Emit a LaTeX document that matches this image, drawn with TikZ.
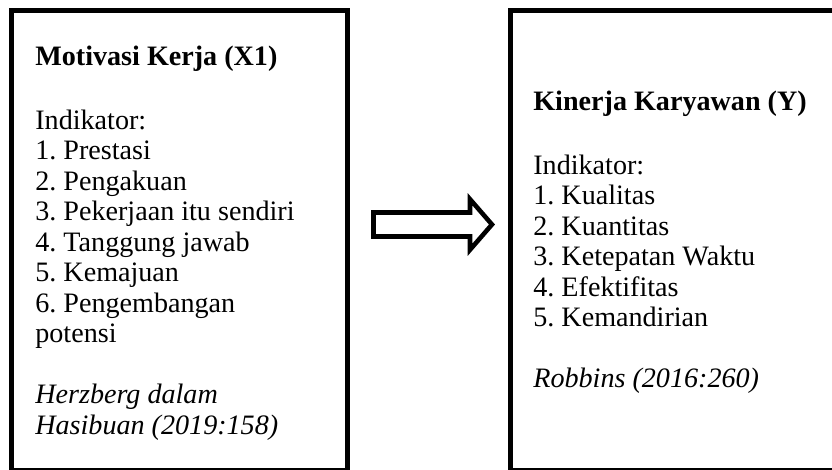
\documentclass[tikz,border=0pt]{standalone}
\usepackage{fontspec}
\setmainfont{Liberation Serif}
\usetikzlibrary{shapes.arrows}
\frenchspacing
\begin{document}
\begin{tikzpicture}[
    kotak/.style={draw, line width=2.8pt, outer sep=0pt, anchor=north west, minimum height=9.2cm},
    isi/.style={anchor=north west, inner sep=0pt, align=left, font=\fontsize{16}{17.35}\selectfont}]
  \useasboundingbox (0,0) rectangle (16.64,9.38);

  % kotak variabel
  \node[kotak, minimum width=6.72cm] (motivasi) at (0.23,9.17) {};
  \node[kotak, minimum width=6.8cm] (kinerja) at (10.21,9.17) {};

  % isi kotak
  \node[isi] (teksX) at (0.70,8.47) {\textbf{Motivasi Kerja (X1)}\\[19pt]
    Indikator:\\
    1. Prestasi\\
    2. Pengakuan\\
    3. Pekerjaan itu sendiri\\
    4. Tanggung jawab\\
    5. Kemajuan\\
    6. Pengembangan\\
    potensi\\[17.35pt]
    \textit{Herzberg dalam}\\
    \textit{Hasibuan (2019:158)}};
  \node[isi] (teksY) at (10.66,7.57) {\textbf{Kinerja Karyawan (Y)}\\[19pt]
    Indikator:\\
    1. Kualitas\\
    2. Kuantitas\\
    3. Ketepatan Waktu\\
    4. Efektifitas\\
    5. Kemandirian\\[17.35pt]
    \textit{Robbins (2016:260)}};

  % panah X1 ke Y
  \node[draw, single arrow, line width=2.6pt, outer sep=0pt, inner xsep=0pt, inner ysep=0.194cm,
    minimum height=2.37cm, minimum width=0.92cm, single arrow head extend=0.266cm,
    single arrow tip angle=98] (panah) at (8.55,4.89) {};
\end{tikzpicture}
\end{document}
